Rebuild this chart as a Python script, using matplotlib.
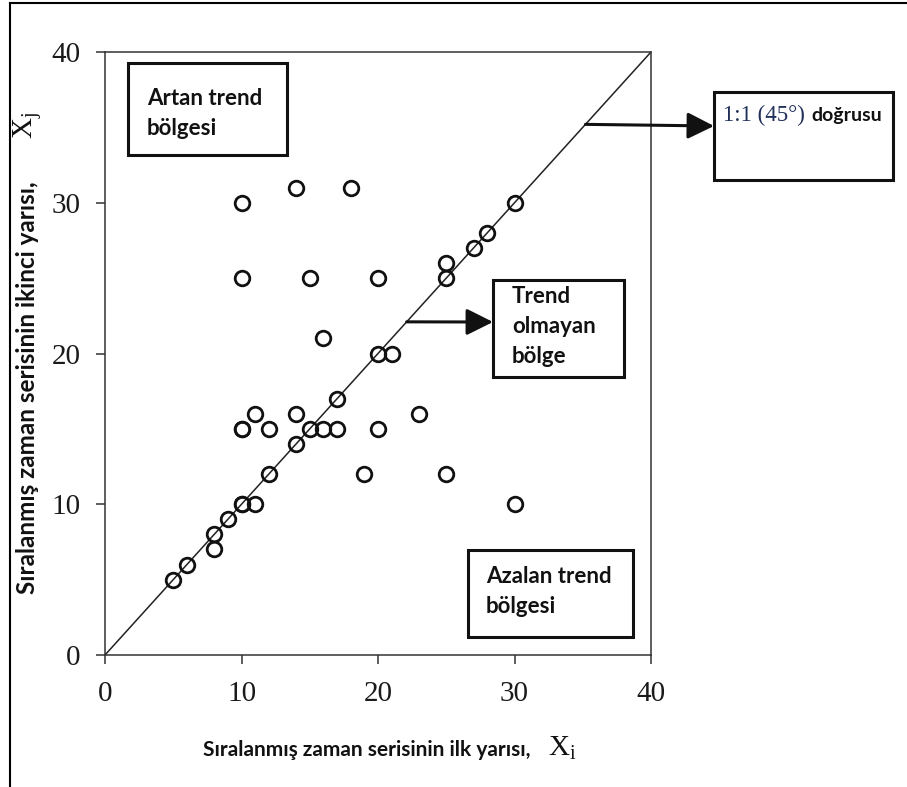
import matplotlib
matplotlib.use("Agg")
import matplotlib.pyplot as plt
from matplotlib.patches import Rectangle
from matplotlib.lines import Line2D

plt.rcParams['mathtext.fontset'] = 'custom'
plt.rcParams['mathtext.rm'] = 'Liberation Serif'
plt.rcParams['mathtext.it'] = 'Liberation Serif'

# Data
x_first_half = [5, 6, 8, 8, 9, 10, 10, 11, 10, 10, 11, 12, 12, 14, 14, 15, 16, 17, 17,
                19, 20, 23, 25, 30, 10, 15, 20, 10, 14, 18, 16, 20, 21, 25, 25, 27, 28, 30]
x_second_half = [5, 6, 8, 7, 9, 10, 10, 10, 15, 15, 16, 15, 12, 14, 16, 15, 15, 15, 17,
                 12, 15, 16, 12, 10, 25, 25, 25, 30, 31, 31, 21, 20, 20, 25, 26, 27, 28, 30]
ticks = [0, 10, 20, 30, 40]
line_1to1 = [0, 40]

W, H = 907, 787
fig = plt.figure(figsize=(W / 100, H / 100), dpi=100)

def fx(px):
    return px / W

def fy(py):
    return 1 - py / H

ax = fig.add_axes([fx(105), fy(655), fx(651) - fx(105), fy(52) - fy(655)])
ax.set_xlim(0, 40)
ax.set_ylim(0, 40)
ax.plot(line_1to1, line_1to1, color='#222222', lw=1.1, zorder=2)
ax.plot(x_first_half, x_second_half, linestyle='none', marker='o', markersize=10.5,
        markerfacecolor='none', markeredgecolor='#111111', markeredgewidth=2.0, zorder=3)

ax.set_xticks(ticks)
ax.set_yticks(ticks)
for s in ax.spines.values():
    s.set_linewidth(1.1)
    s.set_color('#333333')
ax.tick_params(direction='out', length=6.5, width=1.1, color='#333333', labelsize=21)
ax.tick_params(axis='x', pad=12)
ax.tick_params(axis='y', pad=11)
for lab in ax.get_xticklabels() + ax.get_yticklabels():
    lab.set_fontfamily('Liberation Serif')
    lab.set_color('#1a1a1a')

sans = ['Lato', 'DejaVu Sans']

# Axis labels
fig.text(fx(203), fy(756), 'Sıralanmış zaman serisinin ilk yarısı,', family=sans,
         fontweight='bold', fontsize=15, ha='left', va='baseline', color='#111111')
fig.text(fx(548), fy(756), r'$\mathrm{X}_\mathrm{i}$', fontsize=21, ha='left',
         va='baseline', color='#111111')
fig.text(fx(28), fy(388), 'Sıralanmış zaman serisinin ikinci yarısı,', family=sans,
         fontweight='bold', fontsize=17.5, ha='center', va='center', rotation=90,
         color='#111111')
fig.text(fx(28), fy(125), r'$\mathrm{X}_\mathrm{j}$', fontsize=21, ha='center',
         va='center', rotation=90, color='#111111')

# Outer frame lines
fig.add_artist(Line2D([fx(10), fx(10)], [fy(3), 0], transform=fig.transFigure,
                      color='black', lw=1.5))
fig.add_artist(Line2D([fx(10), 1], [fy(3), fy(3)], transform=fig.transFigure,
                      color='black', lw=1.5))

def box(x0, y0, x1, y1):
    r = Rectangle((fx(x0), fy(y1)), fx(x1) - fx(x0), fy(y0) - fy(y1),
                  transform=fig.transFigure, fill=True, facecolor='white',
                  edgecolor='#111111', lw=2.2, zorder=5)
    fig.add_artist(r)

def box_lines(x, baselines, lines, size=16):
    for b, t in zip(baselines, lines):
        fig.text(fx(x), fy(b), t, family=sans, fontweight='bold', fontsize=size,
                 ha='left', va='baseline', color='#111111', zorder=6)

box(128, 63, 287, 155)
box_lines(147, [105, 135], ['Artan trend', 'bölgesi'])

box(493, 280, 624, 377)
box_lines(512, [303, 333, 363], ['Trend', 'olmayan', 'bölge'])

box(468, 550, 633, 637)
box_lines(486, [583, 613], ['Azalan trend', 'bölgesi'])

box(714, 92, 893, 180)
fig.text(fx(723), fy(121), '1:1 (45°)', family='Liberation Serif', fontsize=16.5,
         ha='left', va='baseline', color='#1f2f5a', zorder=6)
fig.text(fx(811), fy(121), 'doğrusu', family=sans, fontweight='bold', fontsize=14,
         ha='left', va='baseline', color='#111111', zorder=6)

# Arrows (start on the 1:1 line, end at box edges)
arrow_kw = dict(arrowstyle='-|>,head_length=0.9,head_width=0.45', lw=2.2,
                color='#111111', shrinkA=0, shrinkB=0, mutation_scale=18)
ax.annotate('', xy=(fx(714), fy(126)), xycoords='figure fraction',
            xytext=(35.2, 35.2), textcoords='data', arrowprops=arrow_kw,
            annotation_clip=False)
ax.annotate('', xy=(fx(493), fy(322)), xycoords='figure fraction',
            xytext=(22.1, 22.1), textcoords='data', arrowprops=arrow_kw,
            annotation_clip=False)

fig.savefig('out.png', dpi=100)
